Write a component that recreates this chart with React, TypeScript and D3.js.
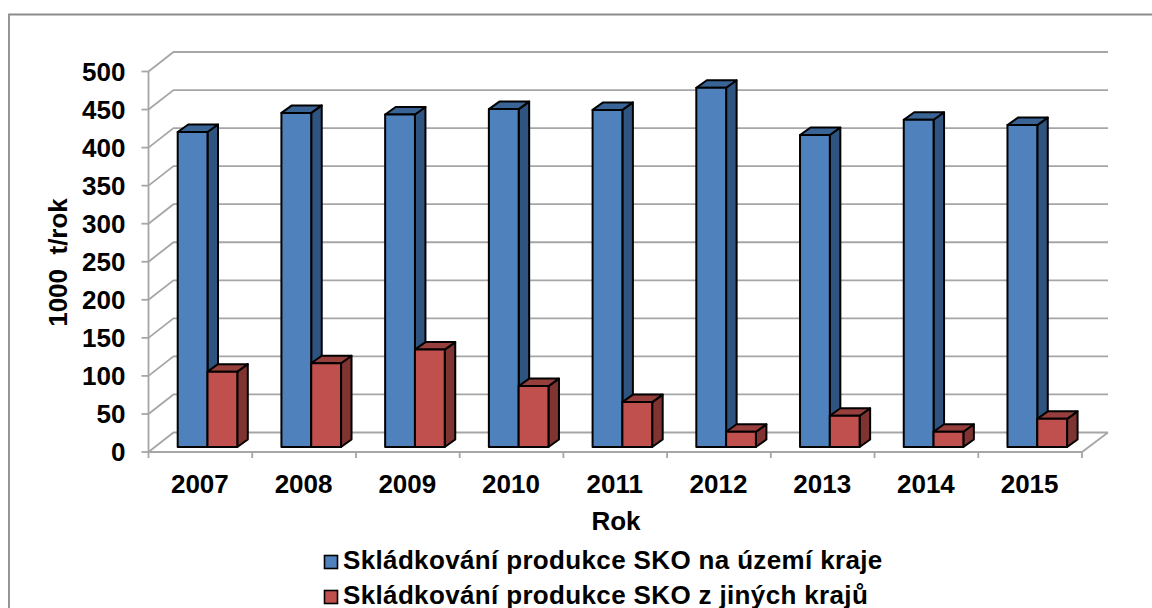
import React from "react";
import * as d3 from "d3";

const years = ["2007","2008","2009","2010","2011","2012","2013","2014","2015"];
const domestic = [414,439,437,444,443,472,410,430,423];
const imported = [99,110,128,80,59,20,41,20,37];
const yTicks = [0,50,100,150,200,250,300,350,400,450,500];
const legendLabels = ["Skládkování produkce SKO na území kraje","Skládkování produkce SKO z jiných krajů"];
const xTitle = "Rok";
const yTitle = "1000  t/rok";

const seriesStyle = [
  { front: "#4f81bd", side: "#2f5480", top: "#3a6496" },
  { front: "#c0504d", side: "#7f3432", top: "#963f3d" },
];
const FONT = "'Liberation Sans', Arial, sans-serif";
const GRID = "#a6a6a6";

export default function App() {
  const x = d3.scaleBand<string>().domain(years).range([148.5, 1082]);
  const y = d3.scaleLinear().domain([0, 500]).range([452, 71.5]);
  const backDx = 25, backDy = -19.5;
  const depthDx = 10.5, depthDy = -7.5;
  const barW = 29.8;
  const barLift = -5;
  const draw = (i: number, s: number, v: number) => {
    const xx = x(years[i])! + 29.2 + s * barW;
    const yBase = y(0) + barLift;
    const yTop = y(v) + barLift;
    const st = seriesStyle[s];
    const r = xx + barW;
    const pts = (p: number[][]) => p.map((q) => q.join(",")).join(" ");
    return (
      <g key={`${i}-${s}`} stroke="#000" strokeWidth={2} strokeLinejoin="round">
        <polygon fill={st.side} points={pts([[r, yTop],[r+depthDx, yTop+depthDy],[r+depthDx, yBase+depthDy],[r, yBase]])} />
        <polygon fill={st.top} points={pts([[xx, yTop],[xx+depthDx, yTop+depthDy],[r+depthDx, yTop+depthDy],[r, yTop]])} />
        <rect x={xx} y={yTop} width={barW} height={yBase-yTop} fill={st.front} />
      </g>
    );
  };
  const x0 = x.range()[0], x1 = x.range()[1];
  return (
    <svg width={1152} height={608} style={{ position: "absolute", left: 0, top: 0, background: "#fff" }} fontFamily={FONT}>
      <path d="M9 608V14.5H1152" fill="none" stroke="#8c8c8c" strokeWidth={1.8} />
      <g fill="none" stroke={GRID} strokeWidth={1.8}>
        {yTicks.map((t) => (
          <path key={t} d={`M${x0} ${y(t)}L${x0+backDx} ${y(t)+backDy}H${x1+backDx+1}`} />
        ))}
        <path d={`M${x0} ${y(500)}V${y(0)}H${x1}L${x1+backDx+1} ${y(0)+backDy}`} />
        {yTicks.map((t) => <path key={t} d={`M${x0-7} ${y(t)}H${x0}`} />)}
        {[...years, ""].map((_, i) => {
          const tx = x0 + i * x.step();
          return <path key={i} d={`M${tx} ${y(0)}V${y(0)+6}`} />;
        })}
      </g>
      {years.map((_, i) => (
        <g key={i}>
          {draw(i, 0, domestic[i])}
          {draw(i, 1, imported[i])}
        </g>
      ))}
      <g fontSize={26} fontWeight="bold" fill="#000">
        {yTicks.map((t) => (
          <text key={t} x={125.5} y={y(t)+9} textAnchor="end">{t}</text>
        ))}
        {years.map((yr) => (
          <text key={yr} x={x(yr)! + x.bandwidth()/2 - 0.5} y={493} textAnchor="middle">{yr}</text>
        ))}
        <text x={616} y={530} textAnchor="middle">{xTitle}</text>
        <text transform="translate(67,262.5) rotate(-90)" textAnchor="middle" style={{ whiteSpace: "pre" }}>{yTitle}</text>
        {legendLabels.map((l, i) => (
          <g key={l}>
            <rect x={324.5} y={555.5+i*35} width={13} height={13} fill={seriesStyle[i].front} stroke="#000" strokeWidth={1.6}/>
            <text x={343} y={569+i*35} letterSpacing={0.35}>{l}</text>
          </g>
        ))}
      </g>
    </svg>
  );
}
